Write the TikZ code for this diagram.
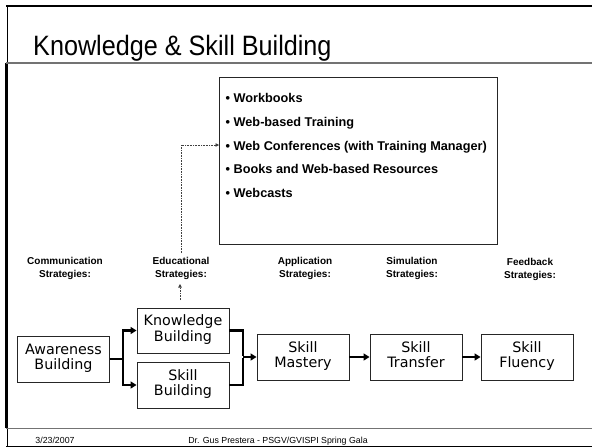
\documentclass[tikz,border=0pt]{standalone}
\usepackage{graphicx}
\usepackage{fontspec}
\setmainfont{Liberation Sans}
\newfontfamily\stagefont{DejaVu Sans}
\usepackage{tikz}
\usetikzlibrary{arrows.meta}
\usetikzlibrary{positioning}

\begin{document}
\begin{tikzpicture}[x=1pt, y=-1pt,
    stagebox/.style={draw=black!85, line width=0.9pt, minimum width=92pt,
      minimum height=46pt, inner sep=0pt, align=center,
      font=\stagefont\fontsize{14.3}{15.5}\selectfont,
      execute at begin node=\rule{0pt}{14.5pt}, execute at end node=\strut},
    flow/.style={line width=2.6pt},
    flowarrow/.style={flow, -{Triangle[length=6pt,width=7pt]}},
    stratlabel/.style={align=center, font=\bfseries\fontsize{10}{13}\selectfont},
    hint/.style={densely dotted, line width=0.6pt, black!75},
    footer/.style={anchor=base, font=\fontsize{8.8}{10}\selectfont}]
    \useasboundingbox (0, 0) rectangle (592, 447);

    % slide frame
    \draw[line width=2pt] (6, 6) -- (592, 6);
    \draw[line width=1pt] (7, 6) -- (7, 63);
    \draw[line width=3pt] (6.5, 63) -- (6.5, 428);
    \draw[line width=1pt] (7, 428) -- (7, 447);
    \draw[black!55, line width=1.6pt] (6, 63) -- (592, 63);
    \draw[black!55, line width=1.6pt] (6, 428.5) -- (592, 428.5);
    \draw[line width=1pt] (6, 446.5) -- (592, 446.5);

    \node[anchor=base west, inner sep=0pt, font=\fontsize{28}{30}\selectfont]
      (title) at (33, 55) {\scalebox{0.9}[1]{Knowledge \& Skill Building}};

    % list of resources
    \node[draw=black!85, line width=0.9pt, anchor=north west,
      minimum width=278pt, minimum height=167pt] (media) at (219, 77) {};
    \node[anchor=north west, align=left, inner sep=0pt,
      font=\bfseries\fontsize{12.7}{23.8}\selectfont] (items) at (225.5, 93)
      {\textbullet\ Workbooks\\
       \textbullet\ Web-based Training\\
       \textbullet\ Web Conferences (with Training Manager)\\
       \textbullet\ Books and Web-based Resources\\
       \textbullet\ Webcasts};

    % strategy labels
    \node[stratlabel] (comm) at (65, 268.5) {Communication\\Strategies:};
    \node[stratlabel] (edu) at (181, 268.5) {Educational\\Strategies:};
    \node[stratlabel] (appl) at (305, 268.5) {Application\\Strategies:};
    \node[stratlabel] (simul) at (412, 268.5) {Simulation\\Strategies:};
    \node[stratlabel] (feed) at (530, 269.5) {Feedback\\Strategies:};

    % stages
    \node[stagebox] (aware) at (63.5, 359) {Awareness\\Building};
    \node[stagebox, minimum height=45pt] (know) at (183, 330.5) {Knowledge\\Building};
    \node[stagebox] (skill) at (183, 385) {Skill\\Building};
    \node[stagebox] (mastery) at (303, 357) {Skill\\Mastery};
    \node[stagebox] (transfer) at (416, 357) {Skill\\Transfer};
    \node[stagebox] (fluency) at (527, 357) {Skill\\Fluency};

    \coordinate (split) at (123, 359);
    \coordinate (merge) at (243, 357);
    \draw[flow] (aware.east) -- (split);
    \draw[flowarrow] ([yshift=-1.3pt]split) |- (know.west);
    \draw[flowarrow] ([yshift=1.3pt]split) |- (skill.west);
    \draw[flow] (know.east) -| ([yshift=1.3pt]merge);
    \draw[flow] (skill.east) -| ([yshift=-1.3pt]merge);
    \draw[flowarrow] (merge) -- (mastery.west);
    \draw[flowarrow] (mastery) -- (transfer);
    \draw[flowarrow] (transfer) -- (fluency);

    % dotted pointers
    \coordinate (eduFoot) at (180, 300);
    \coordinate (eduHead) at (180, 284);
    \coordinate (hintFoot) at (181, 253);
    \coordinate (hintTop) at (181, 145);
    \draw[hint, -{Triangle[length=3.5pt,width=3.5pt]}] (eduFoot) -- (eduHead);
    \draw[hint, -{Triangle[length=3.5pt,width=3.5pt]}] (hintFoot) -- (hintTop) -- (hintTop -| media.west);

    \node[footer] (date) at (55, 443) {3/23/2007};
    \node[footer] (credit) at (278, 443) {Dr. Gus Prestera - PSGV/GVISPI Spring Gala};
  \end{tikzpicture}
\end{document}
